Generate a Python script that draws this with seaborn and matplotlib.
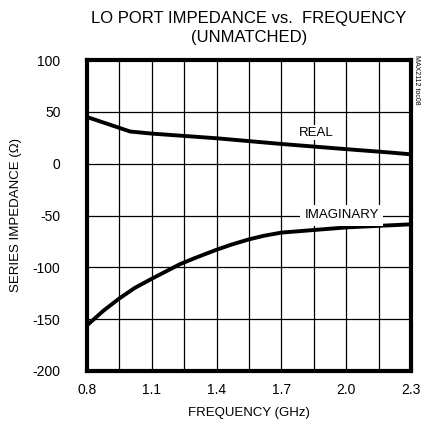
import matplotlib
matplotlib.use("Agg")
import matplotlib.pyplot as plt
import seaborn as sns
import numpy as np
import pandas as pd

# values
freq_real = [0.8, 0.9, 1.0, 1.1, 1.4, 1.7, 2.0, 2.2, 2.3]
real = [45, 38, 31, 29, 24.5, 19, 14, 10.8, 9]
freq_imag = [0.8, 0.875, 0.95, 1.02, 1.1, 1.23, 1.3, 1.4, 1.47, 1.55, 1.62, 1.7, 2.0, 2.3]
imag = [-156, -142, -130, -120, -111, -97, -91, -83, -78, -73, -69.5, -66.5, -61.5, -58.5]

df = pd.concat([
    pd.DataFrame({"freq": freq_real, "z": real, "part": "REAL"}),
    pd.DataFrame({"freq": freq_imag, "z": imag, "part": "IMAGINARY"}),
])

sns.set_style("white")
plt.rcParams['font.family'] = ['Liberation Sans', 'DejaVu Sans']
plt.rcParams['text.color'] = 'black'
plt.rcParams['axes.labelcolor'] = 'black'
plt.rcParams['xtick.color'] = 'black'
plt.rcParams['ytick.color'] = 'black'

fig = plt.figure(figsize=(4.23, 4.30), dpi=100)
ax = fig.add_axes([87 / 423, 1 - 371 / 430, 324 / 423, 311 / 430])

sns.lineplot(data=df, x="freq", y="z", hue="part", palette=["black", "black"],
             linewidth=2.8, legend=False, ax=ax, sort=True, zorder=3)

ax.set_xlim(0.8, 2.3)
ax.set_ylim(-200, 100)
xt = np.arange(0.8, 2.31, 0.15)
ax.set_xticks(xt)
ax.set_yticks(np.arange(-200, 101, 50))
ax.set_xticklabels([f"{v:.1f}" if i % 2 == 0 else "" for i, v in enumerate(xt)], fontsize=10)
ax.set_yticklabels([str(v) for v in range(-200, 101, 50)], fontsize=10)
ax.grid(True, color="black", linewidth=0.9)
ax.tick_params(length=0)
ax.tick_params(axis="x", pad=9)
ax.tick_params(axis="y", pad=19)
for s in ax.spines.values():
    s.set_linewidth(3)
    s.set_color("black")

ax.set_xlabel("FREQUENCY (GHz)", fontsize=9.5, labelpad=7)
ax.set_ylabel("SERIES IMPEDANCE (Ω)", fontsize=9.5, labelpad=8)
ax.set_title("LO PORT IMPEDANCE vs.  FREQUENCY\n(UNMATCHED)", fontsize=12,
             pad=13, linespacing=1.3)

ax.text(1.86, 30, "REAL", fontsize=9.5, ha="center", va="center", zorder=4,
        bbox=dict(facecolor="white", edgecolor="none", pad=1))
ax.text(1.98, -50, "IMAGINARY", fontsize=9.5, ha="center", va="center", zorder=4,
        bbox=dict(facecolor="white", edgecolor="none", pad=3))

fig.text(416 / 423, 1 - 80 / 430, "MAX2112 toc08", rotation=270, fontsize=5,
         ha="center", va="center")

fig.savefig("out.png", dpi=100)
